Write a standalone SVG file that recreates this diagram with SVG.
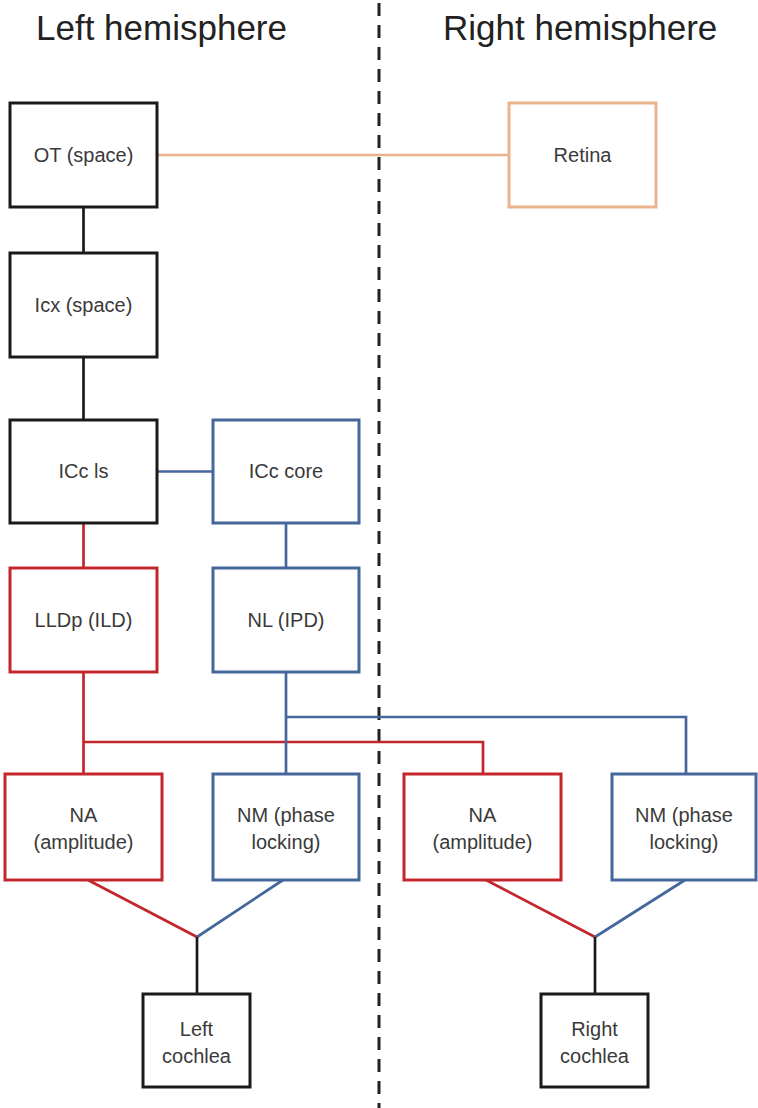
<svg xmlns="http://www.w3.org/2000/svg" width="758" height="1108" viewBox="0 0 758 1108">
<style>
.bg{fill:#ffffff}
.box{fill:#ffffff;stroke-width:3}
.k{stroke:#1a1a1a}
.r{stroke:#c3262c}
.b{stroke:#45679b}
.o{stroke:#eab38b}
.ln{fill:none;stroke-width:2.7}
.lbl{font-family:"Liberation Sans",Arial,sans-serif;font-size:20px;fill:#3a3a3a;text-anchor:middle}
.title{font-family:"Liberation Sans",Arial,sans-serif;font-size:35px;fill:#222222}
</style>
<rect class="bg" x="0" y="0" width="758" height="1108"/>
<line x1="379" y1="3" x2="379" y2="1108" stroke="#222222" stroke-width="3" stroke-dasharray="13 9"/>
<text class="title" x="36" y="40">Left hemisphere</text>
<text class="title" x="443" y="40">Right hemisphere</text>
<g id="connectors">
<line class="ln o" x1="157" y1="155" x2="509" y2="155"/>
<line class="ln k" x1="83.5" y1="207" x2="83.5" y2="253"/>
<line class="ln k" x1="83.5" y1="357" x2="83.5" y2="420"/>
<line class="ln b" x1="157" y1="471.5" x2="213" y2="471.5"/>
<line class="ln r" x1="83.5" y1="523" x2="83.5" y2="568"/>
<line class="ln b" x1="286" y1="523" x2="286" y2="568"/>
<polyline class="ln r" points="83.5,672 83.5,774"/>
<polyline class="ln r" points="83.5,742 483,742 483,774"/>
<polyline class="ln b" points="286,672 286,774"/>
<polyline class="ln b" points="286,717 686,717 686,774"/>
<line class="ln r" x1="88" y1="880" x2="197" y2="937"/>
<line class="ln b" x1="283" y1="880" x2="197" y2="937"/>
<line class="ln k" x1="197" y1="937" x2="197" y2="994"/>
<line class="ln r" x1="486" y1="880" x2="595" y2="937"/>
<line class="ln b" x1="685" y1="880" x2="595" y2="937"/>
<line class="ln k" x1="595" y1="937" x2="595" y2="994"/>
</g>
<g id="ot"><rect class="box k" x="10" y="103" width="147" height="104"/><text class="lbl" x="83.5" y="162">OT (space)</text></g>
<g id="retina"><rect class="box o" x="509" y="103" width="147" height="104"/><text class="lbl" x="582.5" y="162">Retina</text></g>
<g id="icx"><rect class="box k" x="10" y="253" width="147" height="104"/><text class="lbl" x="83.5" y="312">Icx (space)</text></g>
<g id="icc-ls"><rect class="box k" x="10" y="420" width="147" height="103"/><text class="lbl" x="83.5" y="478">ICc ls</text></g>
<g id="icc-core"><rect class="box b" x="213" y="420" width="146" height="103"/><text class="lbl" x="286" y="478">ICc core</text></g>
<g id="lldp"><rect class="box r" x="10" y="568" width="147" height="104"/><text class="lbl" x="83.5" y="627">LLDp (ILD)</text></g>
<g id="nl"><rect class="box b" x="213" y="568" width="146" height="104"/><text class="lbl" x="286" y="627">NL (IPD)</text></g>
<g id="na-left"><rect class="box r" x="5" y="774" width="157" height="106"/><text class="lbl" x="83.5" y="822">NA</text><text class="lbl" x="83.5" y="849">(amplitude)</text></g>
<g id="nm-left"><rect class="box b" x="213" y="774" width="146" height="106"/><text class="lbl" x="286" y="822">NM (phase</text><text class="lbl" x="286" y="849">locking)</text></g>
<g id="na-right"><rect class="box r" x="404" y="774" width="157" height="106"/><text class="lbl" x="482.5" y="822">NA</text><text class="lbl" x="482.5" y="849">(amplitude)</text></g>
<g id="nm-right"><rect class="box b" x="612" y="774" width="144" height="106"/><text class="lbl" x="684" y="822">NM (phase</text><text class="lbl" x="684" y="849">locking)</text></g>
<g id="left-cochlea"><rect class="box k" x="143" y="994" width="107" height="93"/><text class="lbl" x="196.5" y="1036">Left</text><text class="lbl" x="196.5" y="1063">cochlea</text></g>
<g id="right-cochlea"><rect class="box k" x="541" y="994" width="107" height="93"/><text class="lbl" x="594.5" y="1036">Right</text><text class="lbl" x="594.5" y="1063">cochlea</text></g>
</svg>
